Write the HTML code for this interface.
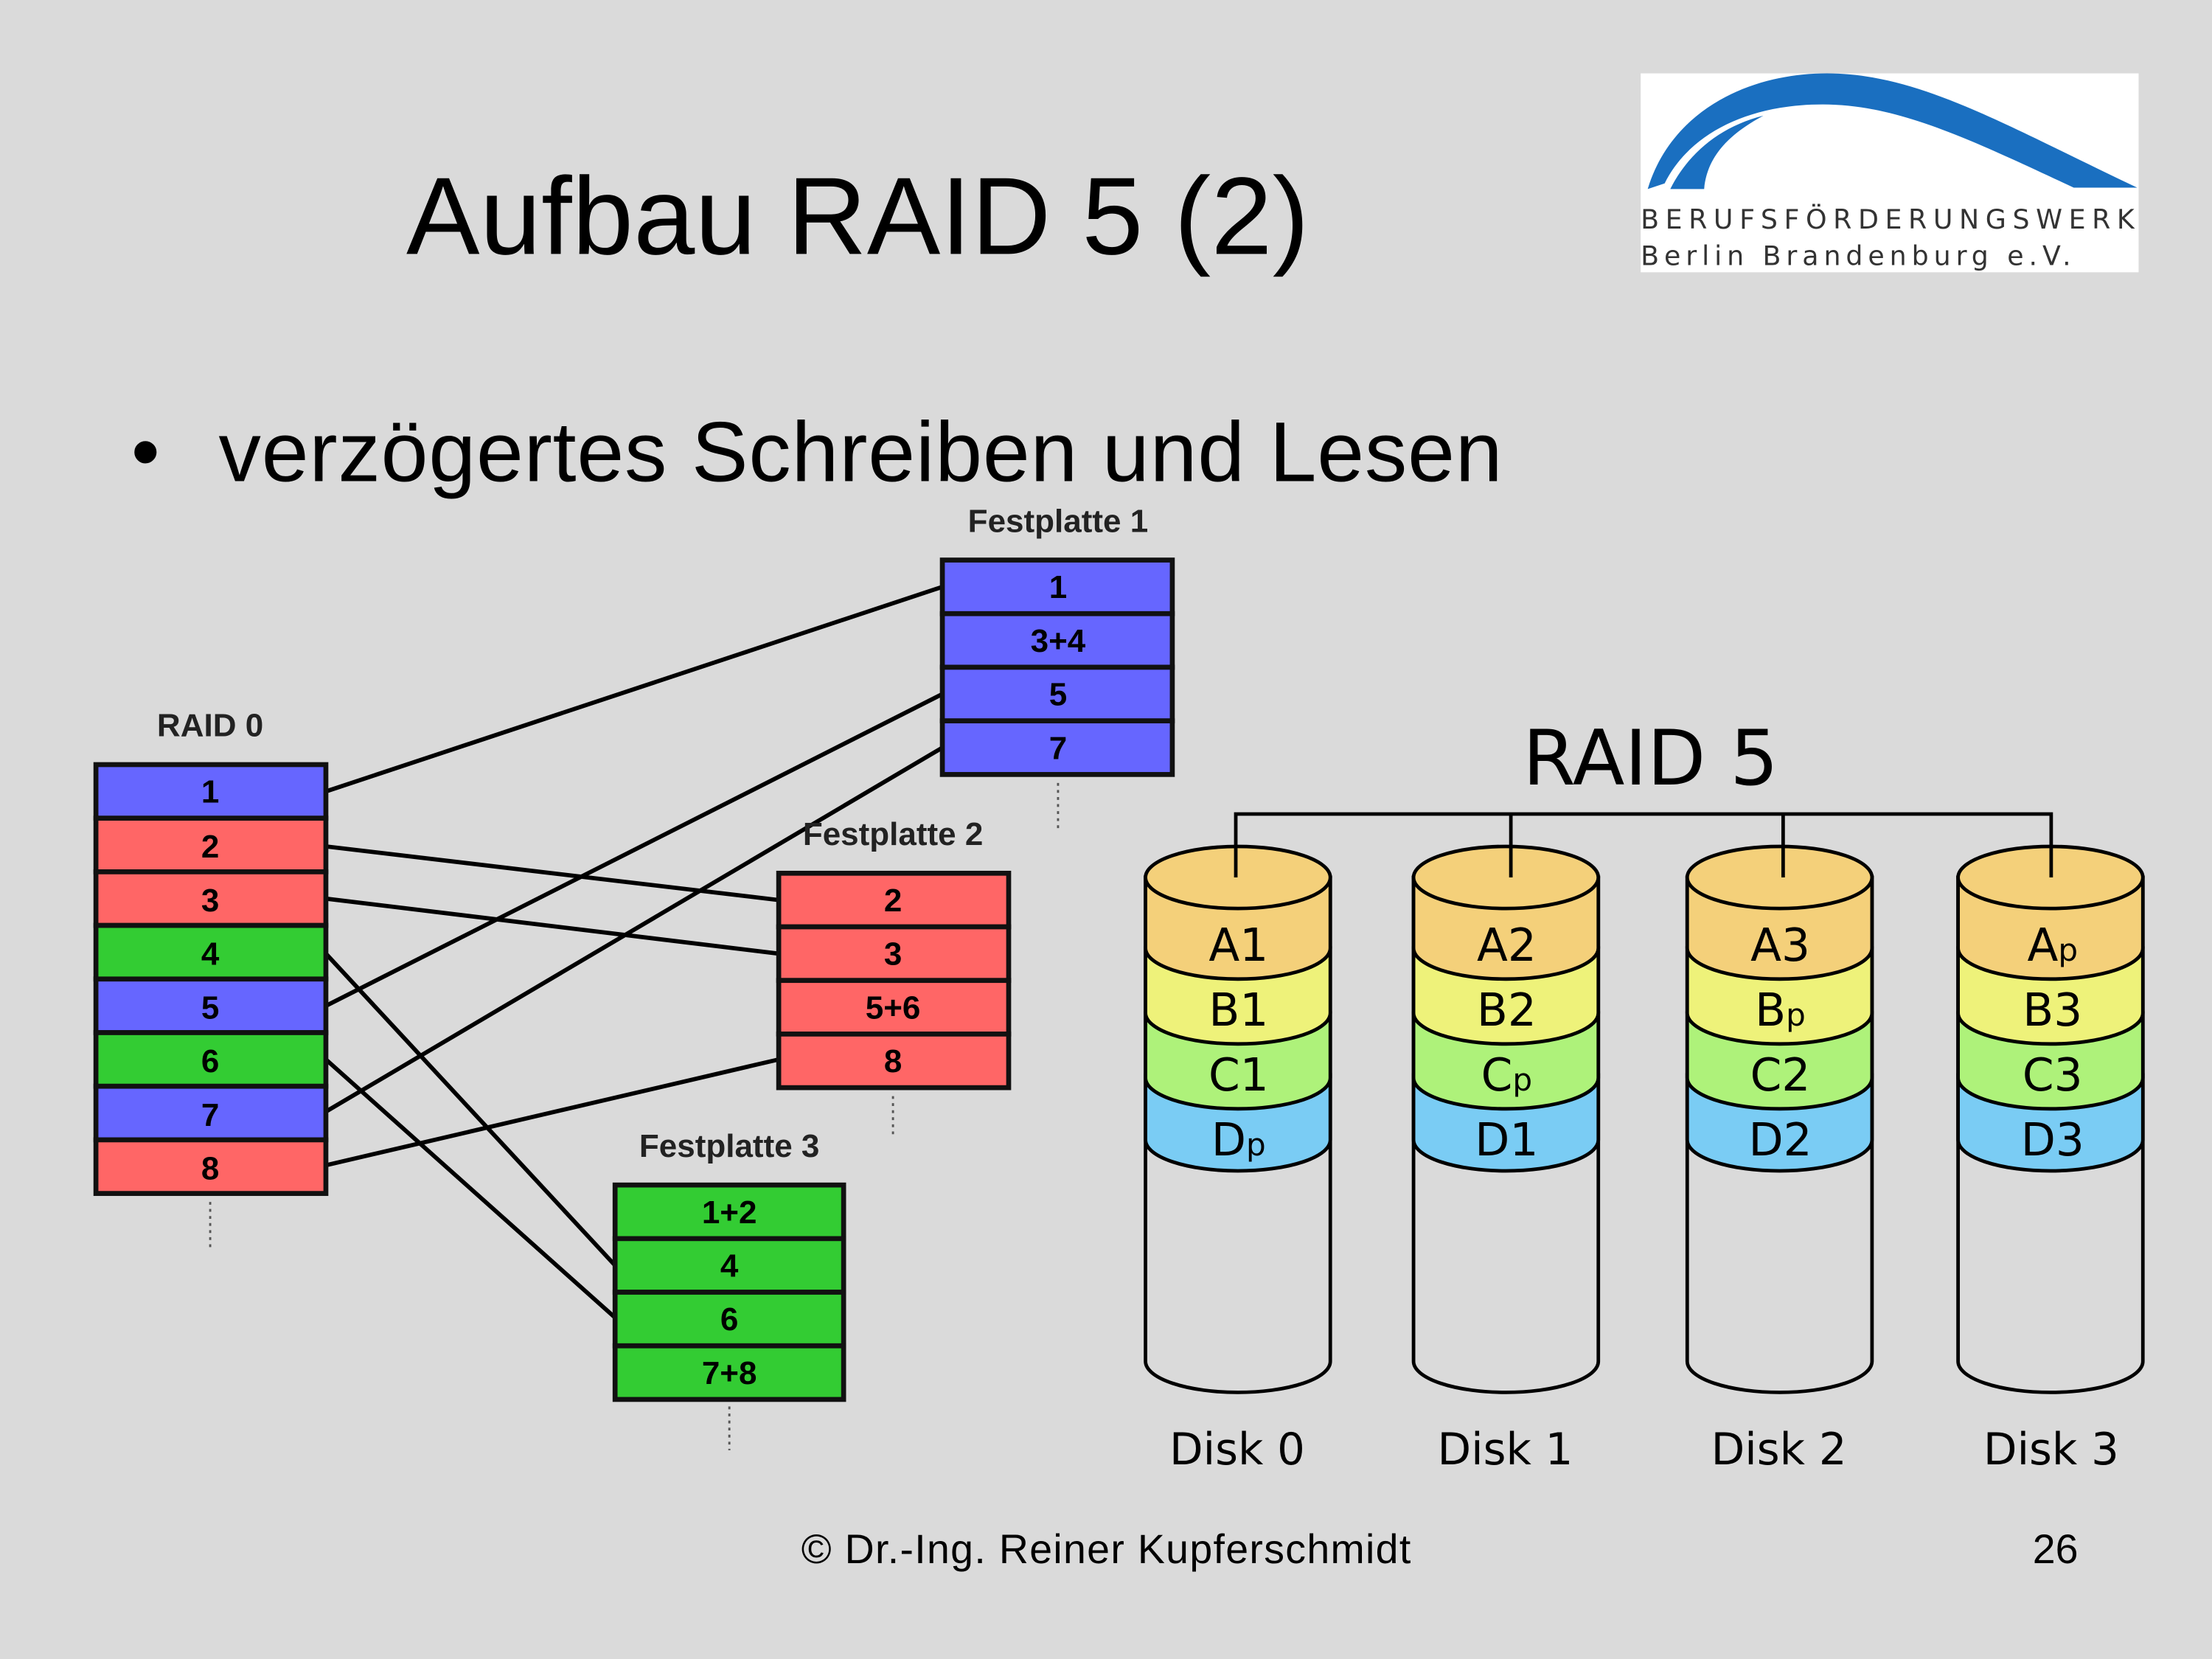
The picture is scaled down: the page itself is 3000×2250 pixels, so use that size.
<!DOCTYPE html>
<html><head><meta charset="utf-8"><style>html,body{margin:0;padding:0;background:#dadada}svg{display:block}</style></head>
<body>
<svg width="3000" height="2250" viewBox="0 0 1568 1176" xmlns="http://www.w3.org/2000/svg">
<rect width="1568" height="1176" fill="#dadada"/>
<text x="288" y="180" font-family="Liberation Sans, sans-serif" font-size="78" fill="#000" textLength="640">Aufbau RAID 5 (2)</text>
<rect x="1163" y="52" width="353" height="141" fill="#fff"/>
<path d="M1168,134 C1185,78 1240,52 1295,52 C1360,52 1420,88 1515,133 L1470,133 C1395,98 1345,74 1292,74 C1240,74 1198,94 1180,130 Z" fill="#1a6fc0"/>
<path d="M1184,134 L1208,134 C1210,112 1224,96 1250,82 C1218,90 1196,110 1184,134 Z" fill="#1a6fc0"/>
<text x="1163" y="162" font-family="DejaVu Sans, sans-serif" font-size="19" letter-spacing="2" fill="#333" textLength="352">BERUFSFÖRDERUNGSWERK</text>
<text x="1163" y="188" font-family="DejaVu Sans, sans-serif" font-size="19" fill="#333" textLength="305">Berlin Brandenburg e.V.</text>
<text x="93" y="340" font-family="Liberation Sans, sans-serif" font-size="58">•</text>
<text x="155" y="341" font-family="Liberation Sans, sans-serif" font-size="60" textLength="910">verzögertes Schreiben und Lesen</text>
<g stroke="#000" stroke-width="3" fill="none">
<line x1="231" y1="561" x2="668" y2="416"/>
<line x1="231" y1="600" x2="552" y2="638"/>
<line x1="231" y1="637" x2="552" y2="676"/>
<line x1="231" y1="713" x2="668" y2="492"/>
<line x1="231" y1="788" x2="668" y2="530"/>
<line x1="231" y1="826" x2="552" y2="751"/>
<line x1="231" y1="676" x2="436" y2="897"/>
<line x1="231" y1="751" x2="436" y2="934"/>
</g>
<g font-family="Liberation Sans, sans-serif" font-weight="bold" font-size="23" text-anchor="middle" fill="#222">
<text x="149" y="522">RAID 0</text>
<text x="750" y="377">Festplatte 1</text>
<text x="633" y="599">Festplatte 2</text>
<text x="517" y="820">Festplatte 3</text>
</g>
<g stroke="#111" stroke-width="3.5">
<rect x="68" y="542" width="163" height="38" fill="#6666ff"/>
<rect x="68" y="580" width="163" height="38" fill="#ff6666"/>
<rect x="68" y="618" width="163" height="38" fill="#ff6666"/>
<rect x="68" y="656" width="163" height="38" fill="#33cc33"/>
<rect x="68" y="694" width="163" height="38" fill="#6666ff"/>
<rect x="68" y="732" width="163" height="38" fill="#33cc33"/>
<rect x="68" y="770" width="163" height="38" fill="#6666ff"/>
<rect x="68" y="808" width="163" height="38" fill="#ff6666"/>
<rect x="668" y="397" width="163" height="38" fill="#6666ff"/>
<rect x="668" y="435" width="163" height="38" fill="#6666ff"/>
<rect x="668" y="473" width="163" height="38" fill="#6666ff"/>
<rect x="668" y="511" width="163" height="38" fill="#6666ff"/>
<rect x="552" y="619" width="163" height="38" fill="#ff6666"/>
<rect x="552" y="657" width="163" height="38" fill="#ff6666"/>
<rect x="552" y="695" width="163" height="38" fill="#ff6666"/>
<rect x="552" y="733" width="163" height="38" fill="#ff6666"/>
<rect x="436" y="840" width="162" height="38" fill="#33cc33"/>
<rect x="436" y="878" width="162" height="38" fill="#33cc33"/>
<rect x="436" y="916" width="162" height="38" fill="#33cc33"/>
<rect x="436" y="954" width="162" height="38" fill="#33cc33"/>
</g>
<g font-family="Liberation Sans, sans-serif" font-weight="bold" font-size="23" text-anchor="middle" fill="#000">
<text x="149" y="569">1</text><text x="149" y="608">2</text><text x="149" y="646">3</text><text x="149" y="684">4</text>
<text x="149" y="722">5</text><text x="149" y="760">6</text><text x="149" y="798">7</text><text x="149" y="836">8</text>
<text x="750" y="424">1</text><text x="750" y="462">3+4</text><text x="750" y="500">5</text><text x="750" y="538">7</text>
<text x="633" y="646">2</text><text x="633" y="684">3</text><text x="633" y="722">5+6</text><text x="633" y="760">8</text>
<text x="517" y="867">1+2</text><text x="517" y="905">4</text><text x="517" y="943">6</text><text x="517" y="981">7+8</text>
</g>
<g stroke="#555" stroke-width="1.5" stroke-dasharray="2,3">
<line x1="149" y1="852" x2="149" y2="884"/>
<line x1="750" y1="555" x2="750" y2="587"/>
<line x1="633" y1="777" x2="633" y2="807"/>
<line x1="517" y1="997" x2="517" y2="1028"/>
</g>
<text x="1170" y="556" font-family="DejaVu Sans, sans-serif" font-size="54" text-anchor="middle">RAID 5</text>
<g stroke="#000" stroke-width="2.5" fill="none">
<polyline points="876,622 876,577 1454,577 1454,622"/>
<line x1="1071" y1="577" x2="1071" y2="622"/>
<line x1="1264" y1="577" x2="1264" y2="622"/>
</g>
<defs>
<g id="cyl" stroke="#000" stroke-width="2.5">
<path d="M0,622 L0,965 A65.5,22 0 0 0 131,965 L131,622 Z" fill="#dadada"/>
<path d="M0,762 L0,808 A65.5,22 0 0 0 131,808 L131,762 Z" fill="#7accf4"/>
<path d="M0,718 L0,764 A65.5,22 0 0 0 131,764 L131,718 Z" fill="#aef27a"/>
<path d="M0,672 L0,718 A65.5,22 0 0 0 131,718 L131,672 Z" fill="#eef27a"/>
<path d="M0,622 L0,672 A65.5,22 0 0 0 131,672 L131,622 Z" fill="#f4d07a"/>
<ellipse cx="65.5" cy="622" rx="65.5" ry="22" fill="#f4d07a"/>
</g>
</defs>
<use href="#cyl" x="812"/><use href="#cyl" x="1002"/><use href="#cyl" x="1196"/><use href="#cyl" x="1388"/>
<g stroke="#000" stroke-width="2.5">
<line x1="876" y1="600" x2="876" y2="622"/><line x1="1071" y1="600" x2="1071" y2="622"/>
<line x1="1264" y1="600" x2="1264" y2="622"/><line x1="1454" y1="600" x2="1454" y2="622"/>
</g>
<g font-family="DejaVu Sans, sans-serif" font-size="32" text-anchor="middle" fill="#000">
<text x="878" y="681">A1</text><text x="878" y="727">B1</text><text x="878" y="773">C1</text><text x="878" y="819">D<tspan font-size="22">p</tspan></text>
<text x="1068" y="681">A2</text><text x="1068" y="727">B2</text><text x="1068" y="773">C<tspan font-size="22">p</tspan></text><text x="1068" y="819">D1</text>
<text x="1262" y="681">A3</text><text x="1262" y="727">B<tspan font-size="22">p</tspan></text><text x="1262" y="773">C2</text><text x="1262" y="819">D2</text>
<text x="1455" y="681">A<tspan font-size="22">p</tspan></text><text x="1455" y="727">B3</text><text x="1455" y="773">C3</text><text x="1455" y="819">D3</text>
<g font-size="31">
<text x="877" y="1038">Disk 0</text><text x="1067" y="1038">Disk 1</text><text x="1261" y="1038">Disk 2</text><text x="1454" y="1038">Disk 3</text>
</g>
</g>
<text x="568" y="1108" font-family="Liberation Sans, sans-serif" font-size="29" textLength="432">© Dr.-Ing. Reiner Kupferschmidt</text>
<text x="1457" y="1108" font-family="Liberation Sans, sans-serif" font-size="29" text-anchor="middle">26</text>
</svg>
</body></html>
